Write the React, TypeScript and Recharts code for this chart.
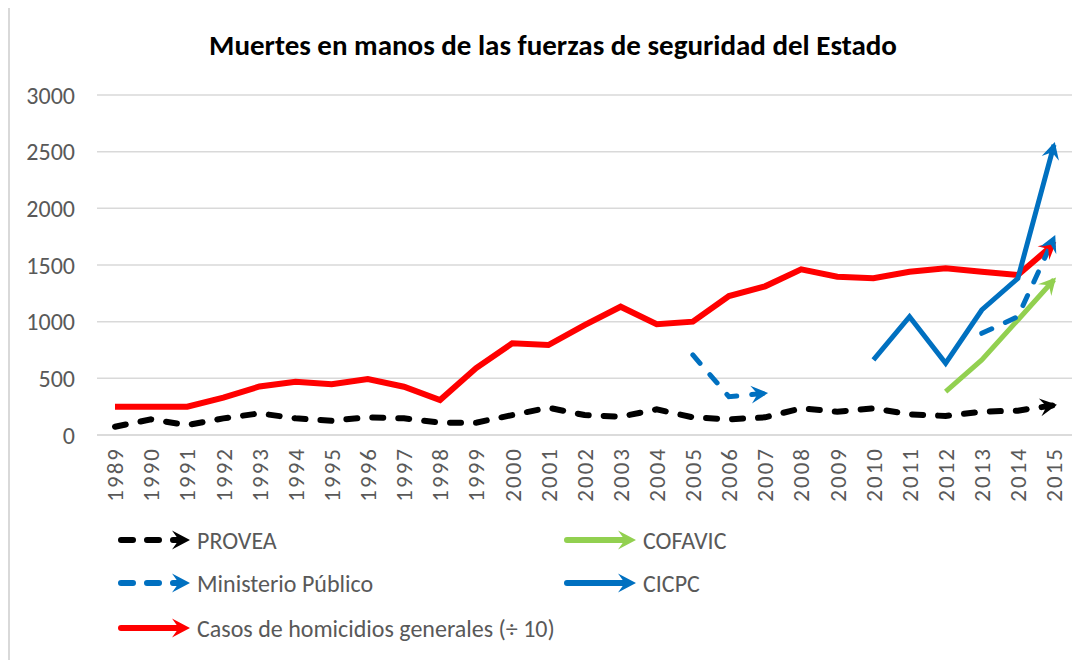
import React from 'react';
import { LineChart, Line, XAxis, YAxis, CartesianGrid } from 'recharts';

// years on the x axis
const years = [
  '1989', '1990', '1991', '1992', '1993', '1994', '1995', '1996', '1997', '1998', '1999', '2000', '2001', '2002',
  '2003', '2004', '2005', '2006', '2007', '2008', '2009', '2010', '2011', '2012', '2013', '2014', '2015',
];

const provea = [73, 138, 88, 147, 191, 147, 126, 156, 147, 109, 109, 176, 241, 176, 162, 226, 156, 138, 156, 235, 206, 235, 182, 168, 206, 215, 262];
const ministerio = [null, null, null, null, null, null, null, null, null, null, null, null, null, null, null, null, 706, 338, 368, null, null, null, null, null, 897, 1044, 1740];
const cofavic = [null, null, null, null, null, null, null, null, null, null, null, null, null, null, null, null, null, null, null, null, null, null, null, 382, 662, 1015, 1370];
const cicpc = [null, null, null, null, null, null, null, null, null, null, null, null, null, null, null, null, null, null, null, null, null, 662, 1044, 633, 1103, 1383, 2560];
// casos de homicidios generales, ya divididos entre 10
const homicidios = [250, 250, 250, 330, 428, 470, 447, 494, 426, 309, 591, 809, 794, 970, 1132, 977, 1000, 1226, 1312, 1462, 1397, 1383, 1441, 1471, 1441, 1412, 1685];

const yTicks = [0, 500, 1000, 1500, 2000, 2500, 3000];

const FONT = "Carlito, Lato, 'Liberation Sans', sans-serif";
const GRAY = '#595959';

// ministerio has two separate stretches, each one ends with its own arrow
const data = years.map((year, i) => ({
  year,
  provea: provea[i],
  mpA: Number(year) <= 2007 ? ministerio[i] : null,
  mpB: Number(year) > 2007 ? ministerio[i] : null,
  cofavic: cofavic[i],
  cicpc: cicpc[i],
  homicidios: homicidios[i],
}));

function lastIndex(values: (number | null)[]) {
  let k = -1;
  values.forEach((v, i) => {
    if (v != null) k = i;
  });
  return k;
}

function ArrowHead({ x, y, angle, color, size = 17 }: { x: number; y: number; angle: number; color: string; size?: number }) {
  const L = size;
  const W = size * 1.05;
  return (
    <polygon
      points={`3,0 ${-L + 3},${-W / 2} ${-L * 0.62 + 3},0 ${-L + 3},${W / 2}`}
      transform={`translate(${x},${y}) rotate(${angle})`}
      fill={color}
    />
  );
}

// dot renderer that only draws an arrow head on the last point of the series
function arrowDot(color: string, values: (number | null)[]) {
  const last = lastIndex(values);
  let prev: { x: number; y: number } | null = null;
  return (props: any) => {
    const { cx, cy, index, points } = props;
    const key = `dot-${index}`;
    if (index === 0) prev = null;
    if (cx == null || cy == null || Number.isNaN(cy)) return <g key={key} />;
    let p0 = prev;
    if (points && points[index - 1] && points[index - 1].y != null) {
      p0 = { x: points[index - 1].x, y: points[index - 1].y };
    }
    prev = { x: cx, y: cy };
    if (index !== last || !p0) return <g key={key} />;
    const angle = (Math.atan2(cy - p0.y, cx - p0.x) * 180) / Math.PI;
    return (
      <g key={key}>
        <ArrowHead x={cx} y={cy} angle={angle} color={color} />
      </g>
    );
  };
}

function YearTick(props: any) {
  const { x, y, payload } = props;
  return (
    <text
      x={x}
      y={y}
      dy="0.36em"
      textAnchor="end"
      transform={`rotate(-90, ${x}, ${y})`}
      fill={GRAY}
      fontSize={23}
      fontFamily={FONT}
      style={{ letterSpacing: '2px' }}
    >
      {payload.value}
    </text>
  );
}

const legendItems = [
  { name: 'PROVEA', color: '#000000', dashed: true, col: 0, row: 0 },
  { name: 'COFAVIC', color: '#92D050', dashed: false, col: 1, row: 0 },
  { name: 'Ministerio Público', color: '#0070C0', dashed: true, col: 0, row: 1 },
  { name: 'CICPC', color: '#0070C0', dashed: false, col: 1, row: 1 },
  { name: 'Casos de homicidios generales (÷ 10)', color: '#FF0000', dashed: false, col: 0, row: 2 },
];

function LegendBlock() {
  const colX = [107, 553];
  const rowY = [532, 575, 620];
  return (
    <>
      {legendItems.map((item) => (
        <div
          key={item.name}
          style={{
            position: 'absolute',
            left: colX[item.col],
            top: rowY[item.row] - 15,
            height: 30,
            display: 'flex',
            alignItems: 'center',
            whiteSpace: 'nowrap',
          }}
        >
          <svg width={76} height={28} style={{ display: 'block' }}>
            <line
              x1={4}
              y1={14}
              x2={62}
              y2={14}
              stroke={item.color}
              strokeWidth={6}
              strokeLinecap="round"
              strokeDasharray={item.dashed ? '12 14' : undefined}
            />
            <ArrowHead x={70} y={14} angle={0} color={item.color} size={18} />
          </svg>
          <span style={{ marginLeft: 4, fontFamily: FONT, fontSize: 24, color: GRAY }}>{item.name}</span>
        </div>
      ))}
    </>
  );
}

export default function App() {
  return (
    <div
      style={{
        position: 'relative',
        width: 1083,
        height: 654,
        marginTop: -2,
        borderLeft: '2px solid #D9D9D9',
        borderTop: '2px solid #D9D9D9',
        boxSizing: 'border-box',
        background: '#fff',
      }}
    >
      <div
        style={{
          position: 'absolute',
          left: 0,
          top: 21,
          width: 1086,
          textAlign: 'center',
          fontFamily: FONT,
          fontWeight: 'bold',
          fontSize: 29,
          lineHeight: '32px',
          color: '#000',
        }}
      >
        Muertes en manos de las fuerzas de seguridad del Estado
      </div>
      <LineChart width={1081} height={650} data={data} margin={{ top: 87, right: 19, left: 7, bottom: 143 }}>
        <CartesianGrid vertical={false} stroke="#D9D9D9" strokeWidth={1.5} />
        <XAxis
          dataKey="year"
          interval={0}
          height={80}
          padding={{ left: 18, right: 18 }}
          tickSize={0}
          tickMargin={12}
          axisLine={{ stroke: '#D9D9D9', strokeWidth: 1.5 }}
          tickLine={false}
          tick={<YearTick />}
        />
        <YAxis
          width={80}
          domain={[0, 3000]}
          ticks={yTicks}
          interval={0}
          axisLine={false}
          tickLine={false}
          tickSize={0}
          tickMargin={22}
          tick={{ fill: GRAY, fontSize: 24, fontFamily: FONT }}
        />
        <Line
          dataKey="homicidios"
          stroke="#FF0000"
          strokeWidth={6}
          dot={arrowDot('#FF0000', homicidios)}
          activeDot={false}
          isAnimationActive={false}
        />
        <Line
          dataKey="provea"
          stroke="#000000"
          strokeWidth={6}
          strokeDasharray="11 15"
          strokeLinecap="round"
          dot={arrowDot('#000000', provea)}
          activeDot={false}
          isAnimationActive={false}
        />
        <Line
          dataKey="mpA"
          stroke="#0070C0"
          strokeWidth={5}
          strokeDasharray="11 15"
          strokeLinecap="round"
          dot={arrowDot('#0070C0', data.map((d) => d.mpA))}
          activeDot={false}
          isAnimationActive={false}
        />
        <Line
          dataKey="cofavic"
          stroke="#92D050"
          strokeWidth={5}
          dot={arrowDot('#92D050', cofavic)}
          activeDot={false}
          isAnimationActive={false}
        />
        <Line
          dataKey="mpB"
          stroke="#0070C0"
          strokeWidth={5}
          strokeDasharray="11 15"
          strokeLinecap="round"
          dot={arrowDot('#0070C0', data.map((d) => d.mpB))}
          activeDot={false}
          isAnimationActive={false}
        />
        <Line
          dataKey="cicpc"
          stroke="#0070C0"
          strokeWidth={5}
          dot={arrowDot('#0070C0', cicpc)}
          activeDot={false}
          isAnimationActive={false}
        />
      </LineChart>
      <LegendBlock />
    </div>
  );
}
